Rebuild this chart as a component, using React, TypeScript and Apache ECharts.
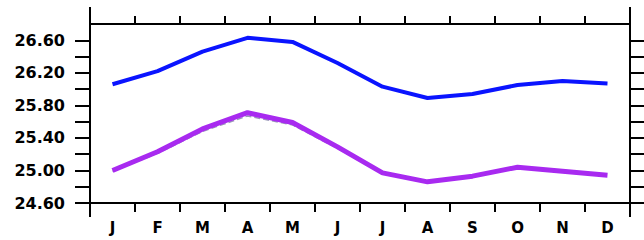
import React, { useEffect, useRef } from "react";
import * as echarts from "echarts";

const months = ["J", "F", "M", "A", "M", "J", "J", "A", "S", "O", "N", "D"];
const blueSeries = [26.06, 26.22, 26.46, 26.63, 26.58, 26.32, 26.03, 25.89, 25.94, 26.05, 26.1, 26.07];
const purpleSeries = [25.0, 25.23, 25.51, 25.71, 25.59, 25.29, 24.97, 24.86, 24.93, 25.04, 24.99, 24.94];
const dashedSeries = [24.99, 25.21, 25.48, 25.67, 25.56, 25.27, 24.96, 24.85, 24.92, 25.03, 24.98, 24.93];
const yTickValues = [24.6, 24.8, 25.0, 25.2, 25.4, 25.6, 25.8, 26.0, 26.2, 26.4, 26.6];
const yLabelValues = [24.6, 25.0, 25.4, 25.8, 26.2, 26.6];

const AX = "#000";

export default function App() {
  const ref = useRef<HTMLDivElement>(null);
  useEffect(() => {
    document.body.style.margin = "0";
    const chart = echarts.init(ref.current!, null, { renderer: "svg" });
    const gridLeft = 90;
    const gridRight = 14;
    const gridTop = 24;
    const gridBottom = 37;
    const W = 644;
    const H = 240;
    const xAxisBase = {
      type: "category" as const,
      data: months,
      boundaryGap: true,
      axisLine: { lineStyle: { color: AX, width: 2 } },
      splitLine: { show: false },
    };
    const yAxisBase = {
      type: "value" as const,
      min: 24.6,
      max: 26.8,
      axisLine: { show: true, lineStyle: { color: AX, width: 2 } },
      axisTick: { show: true, length: 15, lineStyle: { color: AX, width: 2 }, customValues: yTickValues },
      splitLine: { show: false },
    };
    chart.setOption({
      animation: false,
      grid: { left: gridLeft, right: gridRight, top: gridTop, bottom: gridBottom },
      xAxis: [
        {
          ...xAxisBase,
          position: "bottom",
          axisTick: { show: true, length: 9, lineStyle: { color: AX, width: 2 } },
          axisLabel: {
            color: AX,
            fontFamily: "DejaVu Sans",
            fontWeight: "bold",
            fontSize: 15,
            margin: 17,
          },
        },
        {
          ...xAxisBase,
          position: "top",
          axisTick: { show: true, length: 8, lineStyle: { color: AX, width: 2 } },
          axisLabel: { show: false },
        },
      ],
      yAxis: [
        {
          ...yAxisBase,
          position: "left",
          axisLabel: {
            color: AX,
            fontFamily: "DejaVu Sans",
            fontWeight: "bold",
            fontSize: 16,
            margin: 25,
            customValues: yLabelValues,
            formatter: (v: number) => v.toFixed(2),
          },
        },
        {
          ...yAxisBase,
          position: "right",
          axisLabel: { show: false },
        },
      ],
      graphic: [
        {
          type: "line",
          shape: { x1: gridLeft, y1: 7, x2: gridLeft, y2: H - 23 },
          style: { stroke: AX, lineWidth: 2 },
          z: 100,
        },
        {
          type: "line",
          shape: { x1: W - gridRight, y1: 7, x2: W - gridRight, y2: H - 23 },
          style: { stroke: AX, lineWidth: 2 },
          z: 100,
        },
      ],
      series: [
        {
          type: "line",
          data: dashedSeries,
          symbol: "none",
          lineStyle: { color: "#9a9ab8", width: 1.5, type: "dashed" },
          z: 1,
        },
        {
          type: "line",
          data: purpleSeries,
          symbol: "none",
          lineStyle: { color: "#a82af0", width: 5 },
          z: 2,
        },
        {
          type: "line",
          data: blueSeries,
          symbol: "none",
          lineStyle: { color: "#0a14ff", width: 4 },
          z: 3,
        },
      ],
    });
    return () => chart.dispose();
  }, []);
  return <div ref={ref} style={{ width: 644, height: 240 }} />;
}
